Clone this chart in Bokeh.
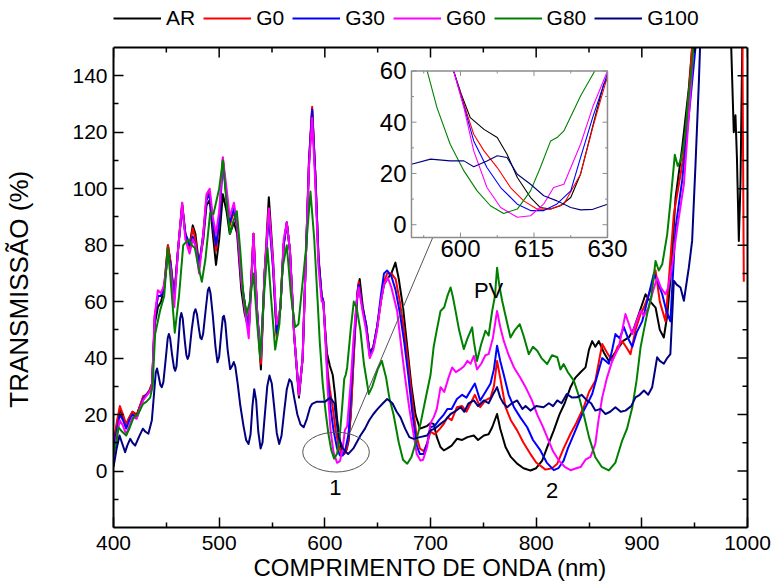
from bokeh.plotting import figure
from bokeh.models import Range1d, LinearAxis, FixedTicker, Legend, LegendItem
from bokeh.embed import file_html
from bokeh.resources import INLINE
from bokeh.core.properties import value

# ---------------- data ----------------
series_names = ["AR", "G0", "G30", "G60", "G80", "G100"]

ar_nm = [400, 403, 406, 409, 412, 415, 418, 422, 425, 428, 431, 434, 436.5, 439, 442, 445, 448, 451.5, 454, 457.5,
         461, 465, 468, 472, 475, 477.5, 481, 485, 488, 491, 494, 497, 500, 503.5, 507, 510, 514, 517, 521, 524,
         528, 532.5, 536, 539.5, 543, 547, 551, 554.5, 558, 561, 564, 567, 571, 575.5, 579, 582, 585, 588, 591, 594,
         597, 598.6, 600.3, 602, 604.8, 607.5, 609.5, 611.6, 614.3, 616.3, 618.4, 620.4, 622.5, 624.5, 627.6, 629.2,
         631, 633, 636, 639, 642.5, 646, 649.5, 653, 656, 659, 663, 666.8, 670, 674, 678, 682, 685.8, 690, 693.6,
         697, 700, 703, 706, 709.4, 712.6, 716, 720, 725, 730, 735, 741, 745, 750.5, 755, 758.4, 763, 766, 771,
         776, 782, 788, 794.6, 800, 805.7, 811, 816.7, 822, 827, 832.5, 837, 842, 846.7, 850, 853, 856, 859.3, 864,
         868.8, 873, 878.2, 882, 887.7, 892, 897.2, 903.5, 908, 913, 917, 920.8, 924, 927, 931.9, 938.2, 944.5,
         947.6, 950, 980, 984.6, 987, 988.6, 990, 991.8, 993.4, 995, 997]
ar_t = [10, 16, 22, 19, 16.5, 19, 21, 20, 23, 26, 27, 28.5, 31, 52, 58, 60, 65, 80, 74, 62,
        78, 94, 84, 80, 87, 84, 73, 82, 94, 96, 84, 73, 82, 98, 92, 84, 88, 84, 64, 56,
        50, 84, 56, 36, 70, 97, 75, 48, 58, 80, 88, 78, 48, 26, 40, 75, 108, 128, 105, 76,
        62, 60, 50.2, 41.8, 37.2, 34, 27.5, 18.4, 10.6, 6.7, 6.1, 7.4, 10.6, 19.7, 43, 54.7,
        64, 68, 58, 52, 42, 44, 51, 60, 66, 68, 70, 73.8, 68, 58, 44, 30, 20, 15, 15.5,
        16, 17, 16.7, 12, 8.5, 7.3, 8, 9, 11.4, 11, 12, 12.6, 11, 12.6, 13, 15.5, 20.2, 15, 8.5,
        5, 2.6, 1, 0.2, 1, 3.7, 9, 14.4, 20, 24, 29.7, 33, 35, 36.7, 43, 46, 44, 46, 42,
        39, 41, 43.8, 46, 47.3, 50, 55.6, 62.6, 60, 57.9, 50, 47.3, 55, 67.4, 96.8, 114.5, 135.7,
        150, 165, 165, 150, 120, 126, 111, 81.5, 102.7, 150, 165]

g0_nm = [400, 403, 406, 409, 412, 415, 418, 422, 425, 428, 431, 434, 436.5, 439, 442, 445, 448, 451.5, 454, 457.5,
         461, 465, 468, 472, 475, 477.5, 481, 485, 488, 491, 494, 497, 500, 503.5, 507, 510, 514, 517, 521, 524,
         528, 532.5, 536, 539.5, 543, 547, 551, 554.5, 558, 561, 564, 567, 571, 575.5, 579, 582, 585, 588, 591, 594,
         597, 598.6, 600.7, 602.7, 604.8, 607.5, 610.2, 612.9, 615.6, 618.4, 621.1, 624.5, 627, 630,
         632, 636, 639, 642.5, 646, 649.5, 653, 656, 659, 663, 667, 671, 675, 679, 683, 687, 690, 693.6, 697,
         700, 704, 709, 712.6, 716, 720, 725, 730, 734, 738, 742, 747, 752, 756.8, 760, 763, 766, 771, 776,
         782, 788, 794.6, 800, 808.8, 815, 820, 826, 832.5, 838, 845, 850, 856, 862.5, 867, 872, 877, 881.4,
         885, 889.3, 894, 898.8, 902, 906.6, 910, 913, 917, 922.4, 926, 930.3, 936.6, 940, 943, 947.6, 950,
         995, 996, 996.5]
g0_t = [9, 17, 23, 20, 16.5, 19, 21, 19.5, 23, 26.5, 27, 28.5, 31, 55, 62, 62, 66, 80, 74, 61,
        78, 95, 84, 79, 86, 82, 72, 84, 97, 99, 88, 78, 88, 111, 96, 87, 92, 86, 67, 60,
        50, 84, 56, 38, 70, 93, 72, 47, 58, 80, 88, 78, 48, 27, 40, 75, 110, 129, 105, 75,
        62, 60, 47, 35.3, 28.8, 22.3, 14.5, 9.3, 6.1, 6.1, 8.1, 19.7, 38, 58,
        67, 57, 52, 41, 44, 51, 60, 67, 70, 70, 68, 60, 50, 38, 24, 12, 8, 7, 10,
        14, 13, 15, 16.7, 19, 18, 22.6, 23, 21, 24, 27, 22.6, 25, 26, 30, 39, 33, 22.6, 18,
        14.4, 10, 6, 3, 0.5, 1, 2.6, 8, 13.2, 17, 22.6, 28, 32, 45, 42, 39, 44, 46,
        44, 41.4, 50, 55.6, 58, 62.6, 66, 71, 60, 53, 70, 91, 105, 113, 126, 150, 165,
        165, 100, 67]

g30_nm = [400, 403, 406, 409, 412, 415, 418, 422, 425, 428, 431, 434, 436.5, 439, 442, 445, 448, 451.5, 454, 457.5,
          461, 465, 468, 472, 475, 477.5, 481, 485, 488, 491, 494, 497, 500, 503.5, 507, 510, 514, 517, 521, 524,
          528, 532.5, 536, 539.5, 543, 547, 551, 554.5, 558, 561, 564, 567, 571, 575.5, 579, 582, 585, 588, 591, 594,
          597, 598.6, 600.7, 602.7, 605.4, 608.2, 611.6, 614.3, 617, 619.7, 622.5, 624.5, 627, 630,
          632, 636, 639, 642.5, 646, 649.5, 653, 656, 659, 663, 667, 671, 675, 679, 683, 687, 690, 693.6, 697,
          700, 704, 708, 712.6, 716, 720, 725, 730, 734, 738, 742, 747, 752, 756.8, 760, 763, 766, 769.4, 774,
          779, 785, 791.5, 797, 804, 810, 816.7, 821, 826, 830, 835.6, 840, 845, 850, 853, 858, 862.5, 868.8,
          872, 875, 879, 883, 887, 891, 895, 900.3, 905, 911.4, 915, 919.3, 923, 927, 931.9, 938.2, 944.5,
          950.8, 953]
g30_t = [7, 14, 20, 18, 15, 18, 20, 19, 22, 25.5, 27, 28, 30, 54, 62, 62, 65, 77, 73, 61,
         78, 94, 84, 80, 83, 80, 73, 84, 96, 98, 88, 80, 88, 110, 97, 88, 93, 87, 68, 60,
         49, 82, 56, 40, 70, 90, 72, 49, 58, 80, 88, 78, 48, 27, 40, 75, 110, 128, 105, 75,
         62, 60, 46.3, 32.7, 22.3, 14.5, 8, 5.5, 5.5, 8.1, 13.2, 26.2, 42, 59,
         66, 57, 52, 41, 44, 51, 62, 70, 71, 69, 64, 56, 46, 34, 20, 9, 6, 6, 10,
         15.5, 16, 18, 20, 22, 22, 25.5, 27, 26, 28.5, 31, 25, 28, 31, 36, 44.4, 39, 34, 27,
         22.6, 19, 15.5, 11, 7.3, 3, 0.3, 1, 3.7, 8, 13, 17, 21.4, 25, 27.3, 34, 40, 38,
         43, 48.5, 47, 51, 47, 44, 49, 53, 60, 70, 67, 62.6, 57, 53, 86, 103, 126,
         150, 165]

g60_nm = [400, 403, 406, 409, 412, 415, 418, 422, 425, 428, 431, 434, 436.5, 439, 442, 445, 448, 451.5, 454, 457.5,
          461, 465, 468, 472, 475, 477.5, 481, 485, 488, 491, 494, 497, 500, 503.5, 507, 510, 514, 517, 521, 524,
          528, 532.5, 536, 539.5, 543, 547, 551, 554.5, 558, 561, 564, 567, 571, 575.5, 579, 582, 585, 588, 591, 594,
          597, 598.6, 600.7, 602.7, 605.4, 608.2, 611.6, 614.3, 617, 619, 621.1, 624.5, 627, 630,
          632, 636, 639, 642.5, 646, 649.5, 653, 656, 659.6, 663, 668.4, 672, 676, 680, 684, 687, 690.5, 693,
          696.8, 700, 703, 706, 709.5, 713, 717, 720.5, 724, 728, 731.5, 735, 738, 741, 744, 748, 752, 755, 759,
          763, 766, 769.4, 774, 779, 785, 790, 796, 801, 806, 810.4, 816, 821.5, 827, 832.5, 838, 842, 846.7,
          851.4, 856, 859, 862.5, 867, 872, 878.2, 884.5, 891, 895, 898.8, 902, 906.6, 910, 914.5, 918, 922.4,
          925, 928.7, 933.5, 939.8, 944.5, 949, 952]
g60_t = [5, 12, 18, 16, 13, 16, 19, 18.5, 22, 25, 26.5, 28, 30, 55, 64, 63, 66, 76, 72, 58,
         78, 95, 82, 77, 82, 80, 70, 84, 98, 100, 90, 84, 92, 111, 100, 90, 95, 88, 68, 58,
         47, 84, 55, 40, 70, 93, 74, 52, 58, 82, 88, 78, 48, 27, 40, 75, 108, 125, 102, 72,
         60, 60, 45.7, 28.8, 14.5, 6.7, 2.9, 3.5, 8.1, 14.5, 15.8, 31.4, 46, 60,
         65, 56, 50, 40, 43, 50, 60, 66, 68.5, 65, 56.7, 45, 33, 22, 13, 6, 3.7, 4,
         8.5, 17, 19, 22, 29.7, 28, 33, 36.7, 35, 36, 37, 39, 38, 40.8, 36, 38, 41, 41.4, 47,
         56.7, 51, 46, 41, 36.7, 33, 29.7, 25, 20, 16, 12, 7, 3.7, 1.5, 0.3, 1, 1.4, 4,
         5, 9.6, 18, 26, 33, 39, 43.8, 55.6, 48.5, 53, 56.7, 55, 58, 63, 68.5, 65, 62.6,
         65, 73, 86, 101.5, 126, 150, 165]

g80_nm = [400, 403, 404.7, 408, 412, 415, 419, 423, 428, 431, 434.7, 437, 439.4, 444, 448, 451.4, 454, 458, 462, 466,
          471, 474, 477, 480, 483.6, 487, 491.5, 494.6, 497, 500, 503.5, 507, 510.4, 513, 516.7, 520, 523, 526, 529,
          532.5, 536, 538.8, 542, 545.7, 549, 553, 557, 560, 564, 568, 572, 575, 578.5, 582, 586.4, 590, 593.2,
          595.2, 597.9, 600.7, 603.4, 606.1, 608.8, 611.6, 614.3, 616.3, 618.4, 619.7, 621.1, 624.5, 627.4, 630,
          633.7, 637, 641.6, 645, 650, 654, 658, 661, 665, 670, 674, 678, 682, 686, 690.5, 695, 700, 703, 706,
          709.5, 713, 716, 719, 721, 723.7, 727, 731.5, 735, 739.4, 741, 744, 748, 752, 755, 758.4, 761, 763, 765,
          767.8, 771, 775.7, 780, 784.5, 788, 793, 797, 801, 805, 810.4, 815, 820, 823, 826, 830, 835.6, 840, 845,
          850, 856, 862, 868.8, 875, 881.4, 886, 891, 895, 898.8, 902, 905, 909, 913, 916, 919.3, 921, 924, 927,
          931.2, 934, 936.6, 939, 941.3, 944, 947.6, 950]
g80_t = [6, 11, 15.5, 14, 12.6, 15, 19, 20, 23.8, 24.5, 26, 30, 48.5, 56.7, 62, 79, 68, 49, 62, 80,
         82, 80, 79, 73, 67, 75, 91.5, 91, 95, 100, 110, 95, 84, 88, 92, 78, 62, 55.6, 60,
         70, 52, 40, 60, 79, 62, 43, 52, 72, 80, 62, 51, 52, 65, 78, 99, 82, 60,
         45.7, 31.4, 21, 13.2, 7.4, 4.4, 6.1, 13.2, 22.3, 32.7, 34, 36.6, 50.2, 60, 58,
         49.7, 38, 27.3, 30, 36, 39, 33, 26, 20, 10, 4, 2.6, 5, 10, 16.7, 25, 34, 44, 50,
         56.7, 58, 62, 65, 62, 56.7, 50, 43.2, 47, 50.9, 46, 39, 45, 49.7, 48, 56.7, 62, 72, 66,
         60.3, 55, 47.3, 50, 52, 48, 41.4, 44, 42.6, 40, 37.9, 41, 40.3, 36, 37.9, 35, 32, 27, 20,
         12, 4.9, 1.5, 0.2, 3, 10.8, 15, 22.6, 32, 43.8, 50, 55.6, 62, 74.4, 71, 73.2, 77, 83.8, 95,
         112, 108, 109.8, 114, 120.4, 132, 144, 160]

g100_nm = [400, 403, 405.7, 408, 411, 413, 415.8, 418, 420.5, 424, 427.8, 430, 433, 436.3, 438.5, 440, 441.2,
           442.5, 444.3, 445.7, 447.2, 449.5, 451.3, 452.4, 453.6, 455.5, 457.3, 458.4, 459.6, 461.5, 463, 464.2,
           465.5, 467.5, 469, 470.2, 471.5, 474, 476.2, 477.6, 479, 481, 482.2, 483.4, 484.8, 487.5, 489.3, 490.5,
           491.8, 494, 496.5, 498.4, 500, 502, 503.5, 504.5, 505.8, 508, 510.4, 512, 513.8, 515.3, 517.5, 520, 523,
           525.5, 527.8, 529.7, 531.5, 533.2, 535, 537, 539.2, 541, 543, 545.5, 547.6, 549.8, 552, 554.5, 556.8,
           559, 561.5, 564, 566.5, 568.5, 571, 574, 577, 580, 583, 586, 588, 592, 596, 600, 605, 609, 613, 617,
           622, 627, 633.7, 638, 642, 646,
           650, 655, 659, 664, 668, 671.6, 676, 680, 684, 690, 696.8, 700, 704, 709.5, 714, 719, 723, 728.4, 732,
           736, 741, 745, 750.5, 755, 759, 763, 766, 769, 772.6, 777, 782, 787, 790, 794.6, 800, 807, 812, 816,
           820, 824, 829, 834, 838.8, 843, 848, 852, 856, 861, 865.6, 870, 875, 880, 884.5, 890, 894, 898, 902,
           906, 909.8, 914.5, 917, 920.8, 924, 927, 930.3, 933, 936.6, 939.8, 944.5, 947.6, 950.8, 954, 956]
g100_t = [1.4, 8, 12.6, 10, 6.7, 9, 11.4, 10, 9, 12, 15, 14, 13.2, 18, 28, 35, 36.3,
          34, 30.5, 29.7, 31.5, 40, 47, 48.5, 47, 41, 36.5, 35.5, 37, 46, 54, 56,
          54, 46, 41, 39.7, 41, 50, 56, 57.3, 55.5, 50, 47.2, 46.7, 48.5, 58, 64, 65,
          63, 55, 44, 38.5, 40.5, 49, 54.5, 55, 52.5, 43, 36.1, 37, 38.6, 37, 31, 23.2, 16,
          11, 9.6, 13, 23, 29, 25, 14, 8, 10, 19, 30, 33.8, 31, 23, 13.5, 9.6,
          12.5, 21, 29, 32.5, 31.5, 26, 20, 16.5, 15.5, 18.5, 22.5, 23.8, 24.5, 24.5, 24.5, 26, 24, 12, 8,
          6, 8, 12.6, 15, 18, 20.2,
          22, 24, 25.5, 24, 21, 19, 15, 12, 11.4, 12, 12.6, 14.4, 15, 16.7, 18, 20.2, 21, 22.6, 21,
          24, 25, 23, 25, 24, 27, 29.7, 26, 24, 22.6, 24, 25, 22, 23, 21.4, 23, 22.6, 24, 23,
          25, 24, 27.3, 26, 26.1, 27, 25, 24, 21.4, 22, 20.2, 21, 22.6, 21, 21.4, 23, 26.1, 27, 28.5,
          27, 29.7, 40.3, 39, 38, 40, 41.4, 67.4, 66, 65, 60.3, 72.1, 81.5, 108.6, 138, 160]

# inset (zoom of the PV region, 590-630 nm)
inset_ar_nm = [598.6, 600.3, 602, 604.8, 607.5, 609.5, 611.6, 614.3, 616.3, 618.4, 620.4, 622.5, 624.5, 627.6, 629.2, 630]
inset_ar_t = [60, 50.2, 41.8, 37.2, 34, 27.5, 18.4, 10.6, 6.7, 6.1, 7.4, 10.6, 19.7, 43, 54.7, 57]
inset_g0_nm = [598.6, 600.7, 602.7, 604.8, 607.5, 610.2, 612.9, 615.6, 618.4, 621.1, 624.5, 627, 630]
inset_g0_t = [60, 47, 35.3, 28.8, 22.3, 14.5, 9.3, 6.1, 6.1, 8.1, 19.7, 38, 58]
inset_g30_nm = [598.6, 600.7, 602.7, 605.4, 608.2, 611.6, 614.3, 617, 619.7, 622.5, 624.5, 627, 630]
inset_g30_t = [60, 46.3, 32.7, 22.3, 14.5, 8, 5.5, 5.5, 8.1, 13.2, 26.2, 42, 59]
inset_g60_nm = [598.6, 600.7, 602.7, 605.4, 608.2, 611.6, 614.3, 617, 619, 621.1, 624.5, 627, 630]
inset_g60_t = [60, 45.7, 28.8, 14.5, 6.7, 2.9, 3.5, 8.1, 14.5, 15.8, 31.4, 46, 60]
inset_g80_nm = [593.2, 595.2, 597.9, 600.7, 603.4, 606.1, 608.8, 611.6, 614.3, 616.3, 618.4, 619.7, 621.1, 624.5, 627.4]
inset_g80_t = [60, 45.7, 31.4, 21, 13.2, 7.4, 4.4, 6.1, 13.2, 22.3, 32.7, 34, 36.6, 50.2, 60]
inset_g100_nm = [590, 593.9, 597.9, 600.7, 602.7, 605.4, 607.5, 609.5, 611.6, 614.3, 617, 619.7, 622.5, 624.5, 627, 630]
inset_g100_t = [23.6, 25.6, 24.9, 24.9, 22.6, 24.9, 26.9, 26.2, 19.7, 15.8, 11.3, 9.3, 6.7, 5.8, 6, 8]

x_ticks = [400, 500, 600, 700, 800, 900, 1000]
x_minor = [450, 550, 650, 750, 850, 950]
y_ticks = [0, 20, 40, 60, 80, 100, 120, 140]
y_minor = [-10, 10, 30, 50, 70, 90, 110, 130]
inset_x_ticks = [600, 615, 630]
inset_x_minor = [592.5, 607.5, 622.5]
inset_y_ticks = [0, 20, 40, 60]
inset_y_minor = [10, 30, 50]

colors = ["#000000", "#ff0000", "#0000ff", "#ff00ff", "#008000", "#000080"]
FONT = "Liberation Sans"
NBSP = "\u00a0"

# ---------------- geometry ----------------
X0, X1, Y0, Y1 = 400, 1000, -20, 150
W, H = 773, 585
B_LEFT, B_RIGHT, B_BOTTOM = 113, 26, 58
BOX_TOP_PX = 47
FRAME_W = W - B_LEFT - B_RIGHT
BOX_H = H - B_BOTTOM - BOX_TOP_PX
PX_PER_X = FRAME_W / (X1 - X0)
PX_PER_Y = BOX_H / (Y1 - Y0)
Y_TOP = Y1 + BOX_TOP_PX / PX_PER_Y

p = figure(width=W, height=H, output_backend="svg", toolbar_location=None,
           x_range=Range1d(X0, X1), y_range=Range1d(Y0, Y_TOP),
           x_axis_location=None, y_axis_location=None,
           min_border_left=B_LEFT, min_border_right=B_RIGHT, min_border_top=0, min_border_bottom=B_BOTTOM)
p.xgrid.visible = False
p.ygrid.visible = False
p.outline_line_color = None
p.background_fill_color = "white"
p.border_fill_color = "white"


def make_axis(ticks, minor, label_text):
    ax = LinearAxis(ticker=FixedTicker(ticks=ticks, minor_ticks=minor))
    ax.axis_line_width = 2
    ax.axis_line_color = "black"
    ax.major_tick_in = 10
    ax.major_tick_out = 0
    ax.minor_tick_in = 5
    ax.minor_tick_out = 0
    ax.major_tick_line_width = 1.5
    ax.minor_tick_line_width = 1.5
    ax.major_label_text_font = FONT
    ax.major_label_text_color = "black"
    ax.major_label_text_font_size = "21px"
    ax.axis_label = label_text
    ax.axis_label_text_font = FONT
    ax.axis_label_text_font_size = "24px"
    ax.axis_label_text_font_style = "normal"
    ax.axis_label_text_color = "black"
    return ax


xb = make_axis(x_ticks, x_minor, "COMPRIMENTO DE ONDA (nm)")
xb.major_label_standoff = 8
xb.axis_label_standoff = 1
# trailing no-break spaces centre the rotated title on the plot box rather than on the whole frame
yl = make_axis(y_ticks, y_minor, "TRANSMISSÃO (%)" + NBSP * 7)
yl.axis_label_text_font_size = "26px"
yl.bounds = (Y0, Y1)
yl.major_label_standoff = 6
yl.axis_label_standoff = 35
yr = LinearAxis(ticker=FixedTicker(ticks=[]), bounds=(Y0, Y1), axis_line_width=2, axis_line_color="black",
                major_tick_out=0, minor_tick_out=0)
p.add_layout(xb, "below")
p.add_layout(yl, "left")
p.add_layout(yr, "right")

# ---------------- main series ----------------
main = [(ar_nm, ar_t), (g0_nm, g0_t), (g30_nm, g30_t), (g60_nm, g60_t), (g80_nm, g80_t), (g100_nm, g100_t)]
renderers = []
for (xs, ys), c in zip(main, colors):
    renderers.append(p.line(xs, ys, line_color=c, line_width=2, line_join="round"))

# white mask above the plot box, then its top edge
p.quad(left=[X0], right=[X1], bottom=[Y1], top=[Y_TOP], fill_color="white", line_color=None)
p.segment(x0=[X0], y0=[Y1], x1=[X1], y1=[Y1], line_color="black", line_width=2)

# mirrored inward ticks on the top and right edges
top_x = x_ticks + x_minor
top_len = [10 / PX_PER_Y] * len(x_ticks) + [5 / PX_PER_Y] * len(x_minor)
p.segment(x0=top_x, y0=[Y1] * len(top_x), x1=top_x, y1=[Y1 - l for l in top_len], line_color="black", line_width=1.5)
right_y = y_ticks + y_minor
right_len = [10 / PX_PER_X] * len(y_ticks) + [5 / PX_PER_X] * len(y_minor)
p.segment(x0=[X1] * len(right_y), y0=right_y, x1=[X1 - l for l in right_len], y1=right_y, line_color="black", line_width=1.5)

# annotations
p.ellipse(x=[610.6], y=[6.7], width=63, height=14.1, fill_color=None, line_color="#555555", line_width=1)
p.segment(x0=[624], y0=[13.8], x1=[702], y1=[82.6], line_color="#555555", line_width=1)
p.text(x=[610, 815, 755], y=[-6, -7, 64], text=["1", "2", "PV"], text_align="center", text_baseline="middle",
       text_font=value(FONT), text_font_size="22px", text_color="black")

# ---------------- inset ----------------
inset = p.subplot(x_source=Range1d(590, 630), y_source=Range1d(-5, 60),
                  x_target=Range1d(682.0, 867.5), y_target=Range1d(82.7, 141.7))
inset.quad(left=[590], right=[630], bottom=[-5], top=[60], fill_color="white", line_color=None)
inset_series = [(inset_ar_nm, inset_ar_t), (inset_g0_nm, inset_g0_t), (inset_g30_nm, inset_g30_t),
                (inset_g60_nm, inset_g60_t), (inset_g80_nm, inset_g80_t), (inset_g100_nm, inset_g100_t)]
for (xs, ys), c in zip(inset_series, colors):
    inset.line(xs, ys, line_color=c, line_width=1.1, line_join="round")
inset.quad(left=[590], right=[630], bottom=[-5], top=[60], fill_color=None, line_color="#8c8c8c", line_width=1.5)

tx_major, tx_minor = 5 / 2.57, 2.5 / 2.57
ty_major, ty_minor = 5 / 4.9, 2.5 / 4.9
xt_all = inset_x_ticks + inset_x_minor
xt_len = [tx_major] * len(inset_x_ticks) + [tx_minor] * len(inset_x_minor)
inset.segment(x0=xt_all, y0=[-5] * len(xt_all), x1=xt_all, y1=[-5 + l for l in xt_len], line_color="#8c8c8c", line_width=1)
inset.segment(x0=xt_all, y0=[60] * len(xt_all), x1=xt_all, y1=[60 - l for l in xt_len], line_color="#8c8c8c", line_width=1)
yt_all = inset_y_ticks + inset_y_minor
yt_len = [ty_major] * len(inset_y_ticks) + [ty_minor] * len(inset_y_minor)
inset.segment(x0=[590] * len(yt_all), y0=yt_all, x1=[590 + l for l in yt_len], y1=yt_all, line_color="#8c8c8c", line_width=1)
inset.segment(x0=[630] * len(yt_all), y0=yt_all, x1=[630 - l for l in yt_len], y1=yt_all, line_color="#8c8c8c", line_width=1)
inset.text(x=inset_x_ticks, y=[-5] * 3, text=[str(v) for v in inset_x_ticks], text_align="center",
           text_baseline="top", y_offset=2, text_font=value(FONT), text_font_size="24px", text_color="black")
inset.text(x=[590] * 4, y=inset_y_ticks, text=[str(v) for v in inset_y_ticks], text_align="right",
           text_baseline="middle", x_offset=-5, text_font=value(FONT), text_font_size="24px", text_color="black")

# ---------------- legend ----------------
items = [LegendItem(label=n, renderers=[r]) for n, r in zip(series_names, renderers)]
legend = Legend(items=items, orientation="horizontal", location=(0, H - B_BOTTOM - 10 - 20),
                glyph_width=48, glyph_height=20, label_height=20, label_width=10,
                label_standoff=5, spacing=8, padding=0, margin=0,
                label_text_font=FONT, label_text_font_size="21px", label_text_color="black",
                border_line_alpha=0, background_fill_alpha=0)
p.add_layout(legend)

open("out.html", "w").write(file_html(p, INLINE))
